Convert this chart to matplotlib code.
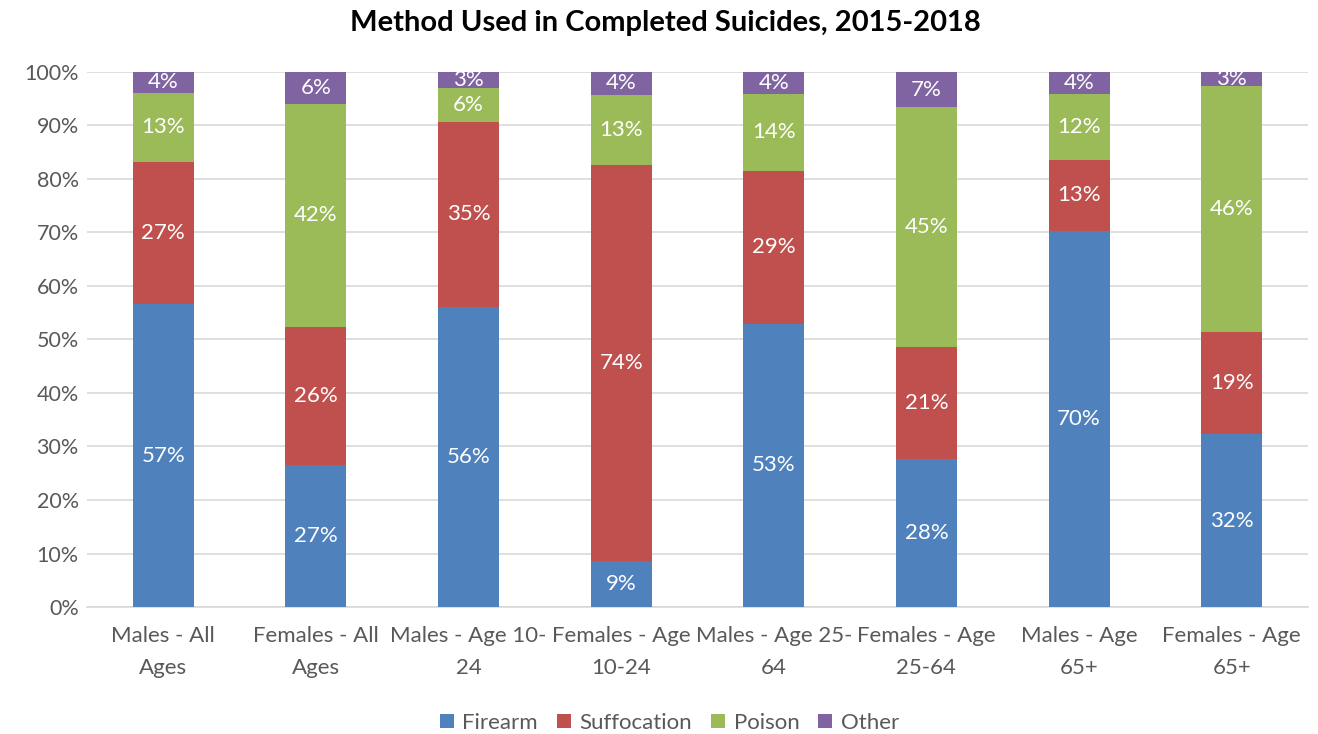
import matplotlib
matplotlib.use("Agg")
import matplotlib.pyplot as plt
import numpy as np

plt.rcParams['font.family'] = ['Lato', 'DejaVu Sans']

categories = ["Males - All\nAges", "Females - All\nAges", "Males - Age 10-\n24", "Females - Age\n10-24",
              "Males - Age 25-\n64", "Females - Age\n25-64", "Males - Age\n65+", "Females - Age\n65+"]
firearm = [56.6, 26.6, 56.1, 8.6, 52.9, 27.7, 70.3, 32.3]
suffocation = [26.6, 25.8, 34.6, 74.0, 28.6, 20.9, 13.3, 19.1]
poison = [12.9, 41.6, 6.3, 13.1, 14.4, 44.8, 12.3, 46.0]
other = [3.9, 6.0, 3.0, 4.3, 4.1, 6.6, 4.1, 2.6]
series_names = ["Firearm", "Suffocation", "Poison", "Other"]
colors = ["#4F81BD", "#C0504D", "#9BBB59", "#8064A2"]

fig = plt.figure(figsize=(13.18, 7.34), dpi=100)
ax = fig.add_axes([0.066, 0.173, 0.9264, 0.729])

x = np.arange(len(categories))
bottom = np.zeros(len(categories))
for name, vals, col in zip(series_names, [firearm, suffocation, poison, other], colors):
    vals = np.array(vals)
    ax.bar(x, vals, 0.4, bottom=bottom, color=col, label=name, zorder=3)
    for xi, b, v in zip(x, bottom, vals):
        ax.text(xi, b + v / 2, f"{int(np.floor(v + 0.5))}%", ha='center', va='center',
                color='white', fontsize=16, zorder=4)
    bottom += vals

ax.set_xlim(-0.5, len(categories) - 0.5)
ax.set_ylim(0, 100)
ax.set_yticks(np.arange(0, 101, 10))
ax.set_yticklabels([f"{v}%" for v in range(0, 101, 10)])
ax.set_xticks(x)
ax.set_xticklabels(categories, linespacing=1.75)
ax.tick_params(axis='both', length=0, labelsize=16, labelcolor='#595959')
ax.tick_params(axis='y', labelsize=15.5, pad=6)
ax.tick_params(axis='x', pad=14)
ax.grid(axis='y', color='#D9D9D9', linewidth=1.2, zorder=0)
for s in ['top', 'right', 'left']:
    ax.spines[s].set_visible(False)
ax.spines['bottom'].set_color('#D9D9D9')
ax.spines['bottom'].set_linewidth(1.2)

fig.suptitle("Method Used in Completed Suicides, 2015-2018", fontsize=21, fontweight='bold',
             y=0.986, x=0.505)
fig.legend(loc='lower center', bbox_to_anchor=(0.508, -0.026), ncol=4, frameon=False,
           fontsize=16, handlelength=0.62, handleheight=0.62, columnspacing=0.85,
           handletextpad=0.4, labelcolor='#595959')

fig.savefig("out.png", dpi=100)
